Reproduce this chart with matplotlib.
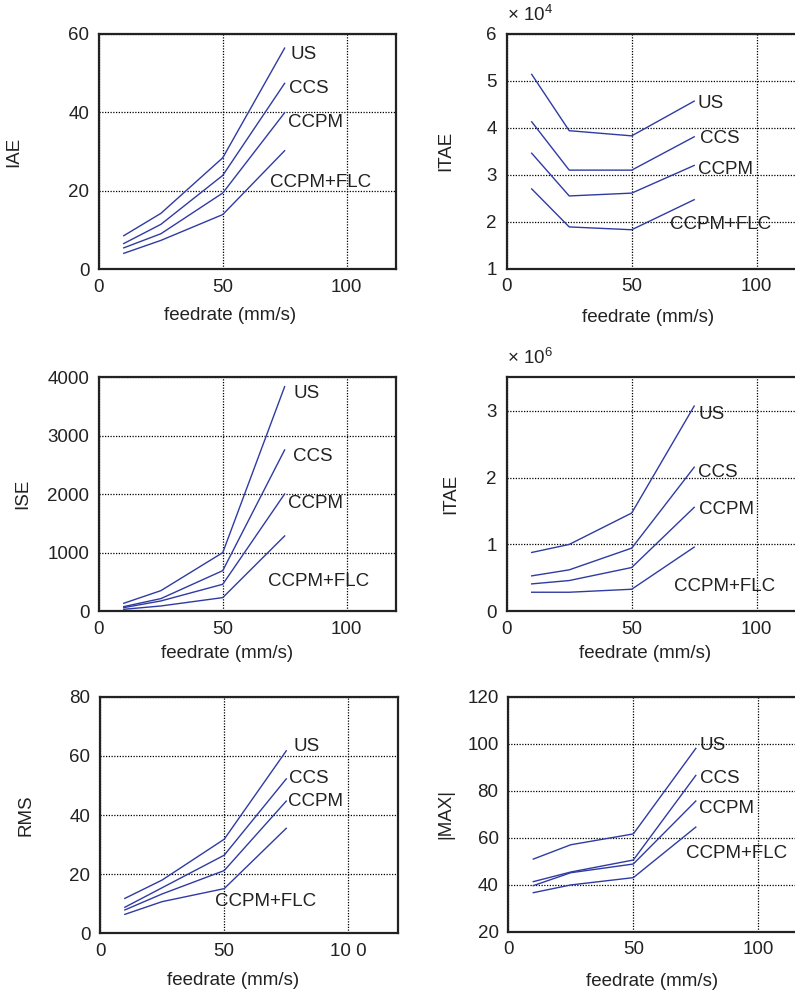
import matplotlib
matplotlib.use("Agg")
import matplotlib.pyplot as plt

plt.rcParams['font.family'] = ['Liberation Sans', 'DejaVu Sans']
plt.rcParams['mathtext.fontset'] = 'custom'
plt.rcParams['mathtext.rm'] = 'Liberation Sans'
plt.rcParams['mathtext.it'] = 'Liberation Sans'

feedrate = [10, 25, 50, 75]
methods = ["US", "CCS", "CCPM", "CCPM+FLC"]

iae = {
    "US": [8.5, 14.2, 28.4, 56.4],
    "CCS": [6.5, 11.4, 23.9, 47.4],
    "CCPM": [5.4, 9.0, 19.4, 39.9],
    "CCPM+FLC": [4.0, 7.3, 13.9, 30.2],
}
itae1 = {
    "US": [51400, 39400, 38300, 45700],
    "CCS": [41300, 31000, 31000, 38100],
    "CCPM": [34600, 25500, 26100, 32000],
    "CCPM+FLC": [27000, 18900, 18300, 24700],
}
ise = {
    "US": [137, 353, 1003, 3840],
    "CCS": [80, 217, 695, 2758],
    "CCPM": [63, 177, 462, 2006],
    "CCPM+FLC": [34, 91, 234, 1288],
}
itae2 = {
    "US": [0.88e6, 1.00e6, 1.47e6, 3.07e6],
    "CCS": [0.53e6, 0.62e6, 0.945e6, 2.155e6],
    "CCPM": [0.41e6, 0.46e6, 0.655e6, 1.555e6],
    "CCPM+FLC": [0.285e6, 0.285e6, 0.33e6, 0.96e6],
}
rms = {
    "US": [11.8, 18.0, 31.8, 61.7],
    "CCS": [8.8, 15.4, 26.4, 52.2],
    "CCPM": [7.9, 13.3, 21.2, 44.7],
    "CCPM+FLC": [6.4, 10.7, 15.1, 35.5],
}
absmax = {
    "US": [50.9, 57.0, 61.6, 98.0],
    "CCS": [41.3, 45.4, 50.5, 86.5],
    "CCPM": [39.6, 45.1, 48.8, 75.6],
    "CCPM+FLC": [36.6, 39.9, 43.0, 64.5],
}

W, H = 795, 996
fig = plt.figure(figsize=(W / 100, H / 100), dpi=100)

LINE = '#2f3ba3'
TXT = '#222222'
FS = 13.5

def add_axes_px(l, r, t, b):
    return fig.add_axes([l / W, 1 - b / H, (r - l) / W, (b - t) / H])

panels = [
    dict(data=iae, ylabel="IAE", ylim=(0, 60), yticks=[0, 20, 40, 60], scale=1,
         box=(99, 396, 34, 269),
         lab={"US": (77.2, 54.7), "CCS": (76.8, 46.2), "CCPM": (76.2, 37.4), "CCPM+FLC": (69.0, 22.1)},
         ylx=14, xl=(230, 315), xtl=["0", "50", "100"], exp=None),
    dict(data=itae1, ylabel="ITAE", ylim=(1, 6), yticks=[1, 2, 3, 4, 5, 6], scale=1e4,
         box=(506.7, 806.7, 34, 268.7),
         lab={"US": (76.4, 4.52), "CCS": (77.4, 3.78), "CCPM": (76.7, 3.12), "CCPM+FLC": (65.4, 1.95)},
         ylx=446, xl=(648, 318), xtl=["0", "50", "100"], exp="4"),
    dict(data=ise, ylabel="ISE", ylim=(0, 4000), yticks=[0, 1000, 2000, 3000, 4000], scale=1,
         box=(99, 396, 377.3, 611.3),
         lab={"US": (78.5, 3726), "CCS": (78.5, 2644), "CCPM": (76.2, 1846), "CCPM+FLC": (68.3, 507)},
         ylx=23, xl=(227, 653), xtl=["0", "50", "100"], exp=None),
    dict(data=itae2, ylabel="ITAE", ylim=(0, 3.5), yticks=[0, 1, 2, 3], scale=1e6,
         box=(506.7, 806.7, 377.3, 611.3),
         lab={"US": (76.7, 2.945), "CCS": (76.7, 2.07), "CCPM": (77.1, 1.52), "CCPM+FLC": (66.9, 0.37)},
         ylx=451, xl=(645, 653), xtl=["0", "50", "100"], exp="6"),
    dict(data=rms, ylabel="RMS", ylim=(0, 80), yticks=[0, 20, 40, 60, 80], scale=1,
         box=(100, 398, 696.7, 933.3),
         lab={"US": (78.1, 63.3), "CCS": (76.2, 52.4), "CCPM": (75.8, 44.5), "CCPM+FLC": (46.3, 10.9)},
         ylx=26, xl=(233, 980), xtl=["0", "50", "10 0"], exp=None),
    dict(data=absmax, ylabel="|MAX|", ylim=(20, 120), yticks=[20, 40, 60, 80, 100, 120], scale=1,
         box=(508.3, 808.3, 696.7, 931.7),
         lab={"US": (76.5, 99.4), "CCS": (76.5, 85.2), "CCPM": (76.2, 72.5), "CCPM+FLC": (71.1, 53.3)},
         ylx=446, xl=(652, 981.7), xtl=["0", "50", "100"], exp=None),
]

for p in panels:
    l, r, t, b = p["box"]
    ax = add_axes_px(l, r, t, b)
    sc = p["scale"]
    for m in methods:
        ys = [v / sc for v in p["data"][m]]
        ax.plot(feedrate, ys, color=LINE, lw=1.0, zorder=3)
    for m in methods:
        x, y = p["lab"][m]
        ax.text(x, y, m, fontsize=FS, color=TXT, ha='left', va='center', zorder=4)
    ax.set_xlim(0, 120)
    ax.set_ylim(*p["ylim"])
    ax.set_xticks([0, 50, 100])
    ax.set_xticklabels(p["xtl"])
    ax.set_yticks(p["yticks"])
    ax.grid(True, color='black', linestyle=(0, (1, 1.2)), linewidth=0.9)
    ax.tick_params(length=0, pad=7, labelsize=FS, colors=TXT)
    for s in ax.spines.values():
        s.set_linewidth(1.6)
        s.set_color(TXT)
    ax.set_ylabel(p["ylabel"], fontsize=FS, color=TXT)
    ax.yaxis.label.set_va('center')
    ax.yaxis.set_label_coords(p["ylx"] / W, 1 - ((t + b) / 2) / H, transform=fig.transFigure)
    ax.set_xlabel("feedrate (mm/s)", fontsize=FS, color=TXT)
    ax.xaxis.label.set_va('center')
    ax.xaxis.set_label_coords(p["xl"][0] / W, 1 - p["xl"][1] / H, transform=fig.transFigure)
    if p["exp"]:
        fig.text(l / W, 1 - (t - 13) / H, "× 10$^{%s}$" % p["exp"], fontsize=FS,
                 color=TXT, ha='left', va='baseline')

fig.savefig("out.png", dpi=100)
